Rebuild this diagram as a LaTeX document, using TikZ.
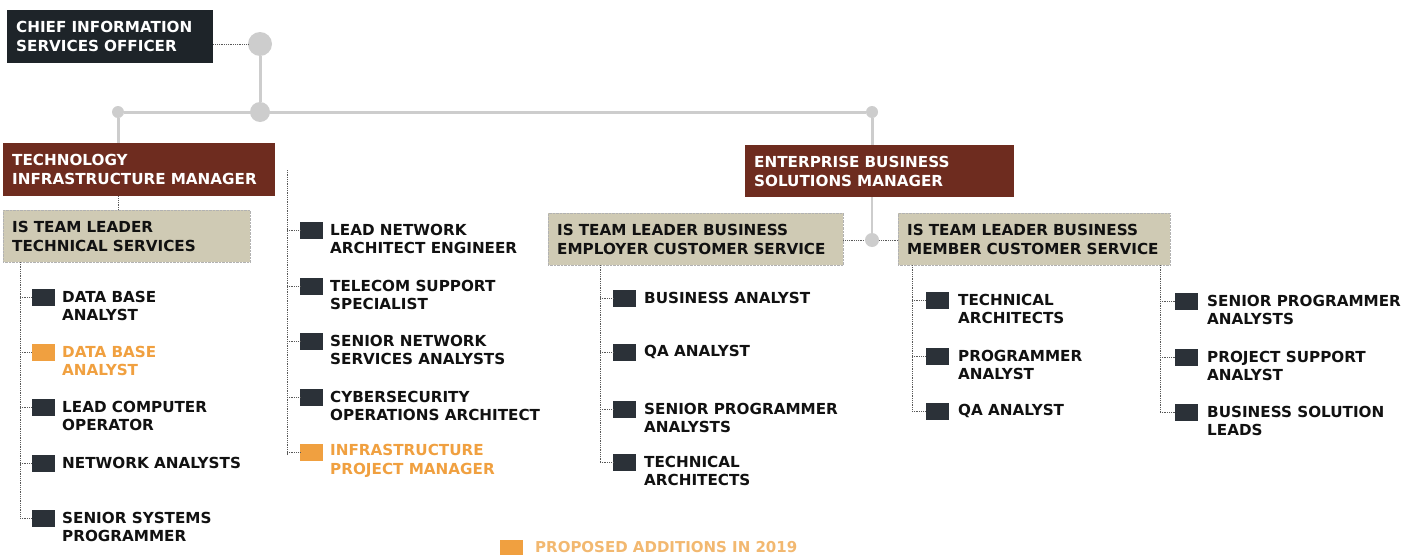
\documentclass[tikz,border=0pt]{standalone}
\usepackage{fontspec}
\setmainfont{DejaVu Sans}
\definecolor{cioC}{HTML}{1E2429}
\definecolor{brownC}{HTML}{6E2C1F}
\definecolor{beigeC}{HTML}{CFCAB4}
\definecolor{iconC}{HTML}{2B3138}
\definecolor{orangeC}{HTML}{F0A040}
\definecolor{legC}{HTML}{F2B870}
\definecolor{lineC}{HTML}{CDCDCD}
\definecolor{txtC}{HTML}{111111}
\begin{document}
\begin{tikzpicture}[x=1pt,y=-1pt,
  lbl/.style={font=\bfseries\fontsize{15.2}{18.5}\selectfont, text=txtC, anchor=west, align=left, inner sep=0pt},
  newlbl/.style={lbl, text=orangeC},
  icon/.style={fill=iconC, minimum width=23pt, minimum height=17pt, inner sep=0pt, anchor=west},
  newicon/.style={icon, fill=orangeC},
  headbox/.style={anchor=north west, inner xsep=9pt, inner ysep=0pt, align=left, font=\bfseries\fontsize{15.2}{19}\selectfont, text=white},
  darkbox/.style={headbox, fill=cioC},
  brownbox/.style={headbox, fill=brownC},
  beigebox/.style={headbox, fill=beigeC, text=txtC, draw=gray!60, densely dotted},
  gline/.style={draw=lineC, line width=3pt},
  gdot/.style={circle, fill=lineC, inner sep=0pt},
  dotline/.style={draw=gray!70!black, densely dotted, line width=0.8pt},
]
\useasboundingbox (0,0) rectangle (1411,557);

% top boxes
\node[darkbox, minimum width=206pt, minimum height=53pt, text width=188pt] (cio) at (7,10) {CHIEF INFORMATION\\SERVICES OFFICER};
\node[brownbox, minimum width=272pt, minimum height=53pt, text width=254pt] (tim) at (3,143) {TECHNOLOGY\\INFRASTRUCTURE MANAGER};
\node[brownbox, minimum width=269pt, minimum height=52pt, text width=251pt] (ebs) at (745,145) {ENTERPRISE BUSINESS\\SOLUTIONS MANAGER};

\node[beigebox, minimum width=247pt, minimum height=52pt, text width=229pt] (ts) at (3,210) {IS TEAM LEADER\\TECHNICAL SERVICES};
\node[beigebox, minimum width=295pt, minimum height=52pt, text width=277pt] (emp) at (548,213) {IS TEAM LEADER BUSINESS\\EMPLOYER CUSTOMER SERVICE};
\node[beigebox, minimum width=272pt, minimum height=52pt, text width=254pt] (mem) at (898,213) {IS TEAM LEADER BUSINESS\\MEMBER CUSTOMER SERVICE};

% gray trunk
\node[gdot, minimum size=24pt] (d1) at (260,44) {};
\node[gdot, minimum size=20pt] (d2) at (260,112) {};
\node[gdot, minimum size=12pt] (d3) at (118,112) {};
\node[gdot, minimum size=12pt] (d4) at (872,112) {};
\node[gdot, minimum size=14pt] (d5) at (872,240) {};
\draw[dotline] (cio.east |- d1) -- (d1.west);
\draw[gline] (d1) -- (d2);
\draw[gline] (d3) -- (d4);
\draw[gline] (d3) -- (tim.north -| d3);
\draw[gline] (d4) -- (ebs.north -| d4);
\draw[dotline] (tim.south -| d3) -- (ts.north -| d3);
\draw[draw=lineC, line width=2pt] (ebs.south -| d5) -- (d5);
\draw[dotline] (emp.east |- d5) -- (d5.west);
\draw[dotline] (d5.east) -- (mem.west |- d5);

% column 1 (technical services)
\coordinate (c1t) at (20,262);
\coordinate (c1b) at (20,518);
\node[icon] (a1) at (32,297) {};
\node[lbl] at (62,306) {DATA BASE\\ANALYST};
\node[newicon] (a2) at (32,352) {};
\node[newlbl] at (62,361) {DATA BASE\\ANALYST};
\node[icon] (a3) at (32,407) {};
\node[lbl] at (62,416) {LEAD COMPUTER\\OPERATOR};
\node[icon] (a4) at (32,463) {};
\node[lbl] at (62,463) {NETWORK ANALYSTS};
\node[icon] (a5) at (32,518) {};
\node[lbl] at (62,527) {SENIOR SYSTEMS\\PROGRAMMER};
\draw[dotline] (c1t) -- (c1b);
\foreach \i in {a1,a2,a3,a4,a5} \draw[dotline] (c1t |- \i.west) -- (\i.west);

% column 2 (infrastructure)
\coordinate (c2t) at (287,170);
\coordinate (c2b) at (287,455);
\draw[dotline] (c2t) -- (c2b);
\node[icon] (b1) at (300,230) {};
\node[lbl] at (330,239) {LEAD NETWORK\\ARCHITECT ENGINEER};
\node[icon] (b2) at (300,286) {};
\node[lbl] at (330,295) {TELECOM SUPPORT\\SPECIALIST};
\node[icon] (b3) at (300,341) {};
\node[lbl] at (330,350) {SENIOR NETWORK\\SERVICES ANALYSTS};
\node[icon] (b4) at (300,397) {};
\node[lbl] at (330,406) {CYBERSECURITY\\OPERATIONS ARCHITECT};
\node[newicon] (b5) at (300,452) {};
\node[newlbl] at (330,461) {INFRASTRUCTURE\\PROJECT MANAGER};
\foreach \i in {b1,b2,b3,b4,b5} \draw[dotline] (c2t |- \i.west) -- (\i.west);

% column 3 (employer)
\coordinate (c3t) at (600,265);
\coordinate (c3b) at (600,462);
\draw[dotline] (c3t) -- (c3b);
\node[icon] (e1) at (613,298) {};
\node[lbl] at (644,298) {BUSINESS ANALYST};
\node[icon] (e2) at (613,352) {};
\node[lbl] at (644,352) {QA ANALYST};
\node[icon] (e3) at (613,409) {};
\node[lbl] at (644,418) {SENIOR PROGRAMMER\\ANALYSTS};
\node[icon] (e4) at (613,462) {};
\node[lbl] at (644,471) {TECHNICAL\\ARCHITECTS};
\foreach \i in {e1,e2,e3,e4} \draw[dotline] (c3t |- \i.west) -- (\i.west);

% column 4 (member, left)
\coordinate (c4t) at (912,265);
\coordinate (c4b) at (912,411);
\draw[dotline] (c4t) -- (c4b);
\node[icon] (m1) at (926,300) {};
\node[lbl] at (958,309) {TECHNICAL\\ARCHITECTS};
\node[icon] (m2) at (926,356) {};
\node[lbl] at (958,365) {PROGRAMMER\\ANALYST};
\node[icon] (m3) at (926,411) {};
\node[lbl] at (958,411) {QA ANALYST};
\foreach \i in {m1,m2,m3} \draw[dotline] (c4t |- \i.west) -- (\i.west);

% column 5 (member, right)
\coordinate (c5t) at (1160,265);
\coordinate (c5b) at (1160,412);
\draw[dotline] (c5t) -- (c5b);
\node[icon] (n1) at (1175,301) {};
\node[lbl] at (1207,310) {SENIOR PROGRAMMER\\ANALYSTS};
\node[icon] (n2) at (1175,357) {};
\node[lbl] at (1207,366) {PROJECT SUPPORT\\ANALYST};
\node[icon] (n3) at (1175,412) {};
\node[lbl] at (1207,421) {BUSINESS SOLUTION\\LEADS};
\foreach \i in {n1,n2,n3} \draw[dotline] (c5t |- \i.west) -- (\i.west);

% legend
\node[newicon, minimum height=15pt] (leg) at (500,547) {};
\node[lbl, text=legC, font=\bfseries\fontsize{15}{16}\selectfont] (legt) at (535,547) {PROPOSED ADDITIONS IN 2019};
\end{tikzpicture}
\end{document}
